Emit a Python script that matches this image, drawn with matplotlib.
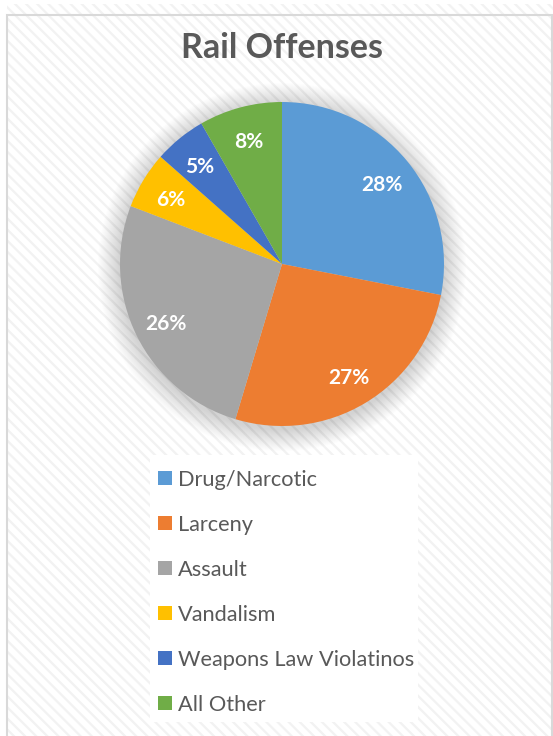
import matplotlib.pyplot as plt
from matplotlib.patches import Rectangle, Circle

plt.rcParams['font.family'] = ['Lato', 'DejaVu Sans']
plt.rcParams['hatch.linewidth'] = 1.6

categories = ['Drug/Narcotic', 'Larceny', 'Assault', 'Vandalism',
              'Weapons Law Violatinos', 'All Other']
shares = [28.1, 26.6, 26.2, 5.7, 5.2, 8.3]
colors = ['#5b9bd5', '#ed7d31', '#a5a5a5', '#ffc000', '#4472c4', '#70ad47']

W, H = 553, 736
fig = plt.figure(figsize=(W / 100, H / 100), dpi=100)
ax = fig.add_axes([0, 0, 1, 1])
ax.set_xlim(0, W)
ax.set_ylim(0, H)
ax.set_aspect('equal')
ax.axis('off')

# background with light diagonal stripes + thin grey border
ax.add_patch(Rectangle((7, -5), W, H - 4 + 5, facecolor='white',
                       edgecolor='#f2f2f2', hatch='\\\\\\', lw=0, zorder=0))
ax.add_patch(Rectangle((6.5, -5), W - 8, H - 10, fill=False,
                       edgecolor='#d9d9d9', lw=1.5, zorder=1))

cx, cy, r = 282, H - 264, 162

# soft shadow around the pie
for k in range(22, 0, -1):
    ax.add_patch(Circle((cx, cy - 3), r + k, color='#808080',
                        alpha=0.014, lw=0, zorder=2))

wedges, texts, pcts = ax.pie(shares, colors=colors, center=(cx, cy), radius=r,
                             startangle=90, counterclock=False,
                             autopct='%.0f%%', pctdistance=0.8,
                             wedgeprops=dict(lw=0),
                             textprops=dict(color='white', fontsize=15, fontweight='bold'))
for w in wedges:
    w.set_zorder(3)
for t in pcts:
    t.set_zorder(4)
    t.set_y(t.get_position()[1] - 3)
ax.set_xlim(0, W)
ax.set_ylim(0, H)

ax.text(cx, H - 48, 'Rail Offenses', ha='center', va='center',
        fontsize=24.5, fontweight='bold', color='#595959')

# white legend panel
ax.add_patch(Rectangle((150, H - 722), 268, 267, facecolor='white', lw=0, zorder=2))
leg = ax.legend(wedges, categories, loc='upper left',
                bbox_to_anchor=(158 / W, 1 - 469.5 / H), bbox_transform=fig.transFigure,
                frameon=False, fontsize=15.7, labelcolor='#595959',
                handlelength=0.64, handleheight=0.64, handletextpad=0.28,
                labelspacing=1.15, borderpad=0, borderaxespad=0)

fig.savefig('out.png', dpi=100)
